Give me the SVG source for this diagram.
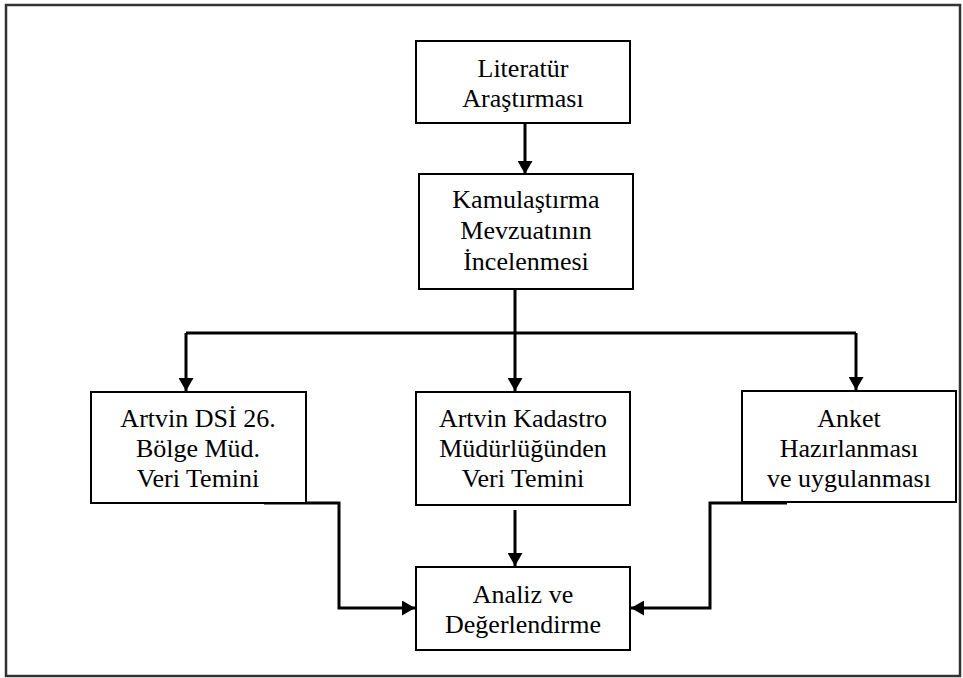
<svg xmlns="http://www.w3.org/2000/svg" width="963" height="678" viewBox="0 0 963 678">
<defs>
<marker id="ah" markerUnits="userSpaceOnUse" markerWidth="14" markerHeight="15" refX="13" refY="7.5" orient="auto">
<path d="M0,0 L13,7.5 L0,15 z" fill="#000"/>
</marker>
<style>
.box{fill:#fff;stroke:#000;stroke-width:2}
.t{font-size:26px;fill:#000;text-anchor:middle}
.c{fill:none;stroke:#000;stroke-width:3}
.ca{fill:none;stroke:#000;stroke-width:3;marker-end:url(#ah)}
</style>
</defs>
<rect x="0" y="0" width="963" height="678" fill="#fff"/>
<rect x="6" y="5" width="954" height="671" fill="none" stroke="#333" stroke-width="2.5"/>
<g id="connectors">
<line class="ca" x1="525" y1="124" x2="525" y2="174"/>
<line class="c" x1="515" y1="289" x2="515" y2="333"/>
<polyline class="c" points="186,333 856,333"/>
<line class="ca" x1="186" y1="333" x2="186" y2="391"/>
<line class="ca" x1="515" y1="333" x2="515" y2="391"/>
<line class="ca" x1="856" y1="333" x2="856" y2="390"/>
<line class="ca" x1="515" y1="510" x2="515" y2="566"/>
<polyline class="ca" points="264,503 339,503 339,608 415,608"/>
<polyline class="ca" points="787,503 710,503 710,608 631,608"/>
</g>
<g font-family="'Liberation Serif', 'Times New Roman', Times, serif">
<g id="n1">
<rect class="box" x="416" y="41" width="214" height="82"/>
<text class="t" x="523" y="77">Literatür</text>
<text class="t" x="523" y="107">Araştırması</text>
</g>
<g id="n2">
<rect class="box" x="419" y="174" width="214" height="115"/>
<text class="t" x="526" y="208">Kamulaştırma</text>
<text class="t" x="526" y="239">Mevzuatının</text>
<text class="t" x="526" y="270">İncelenmesi</text>
</g>
<g id="n3">
<rect class="box" x="91" y="392" width="215" height="111"/>
<text class="t" x="198" y="427">Artvin DSİ 26.</text>
<text class="t" x="198" y="457">Bölge Müd.</text>
<text class="t" x="198" y="487">Veri Temini</text>
</g>
<g id="n4">
<rect class="box" x="416" y="392" width="214" height="113"/>
<text class="t" x="523" y="427">Artvin Kadastro</text>
<text class="t" x="523" y="457">Müdürlüğünden</text>
<text class="t" x="523" y="487">Veri Temini</text>
</g>
<g id="n5">
<rect class="box" x="742" y="391" width="214" height="111"/>
<text class="t" x="849" y="427">Anket</text>
<text class="t" x="849" y="457">Hazırlanması</text>
<text class="t" x="849" y="487">ve uygulanması</text>
</g>
<g id="n6">
<rect class="box" x="416" y="567" width="214" height="83"/>
<text class="t" x="523" y="603">Analiz ve</text>
<text class="t" x="523" y="633">Değerlendirme</text>
</g>
</g>
</svg>
